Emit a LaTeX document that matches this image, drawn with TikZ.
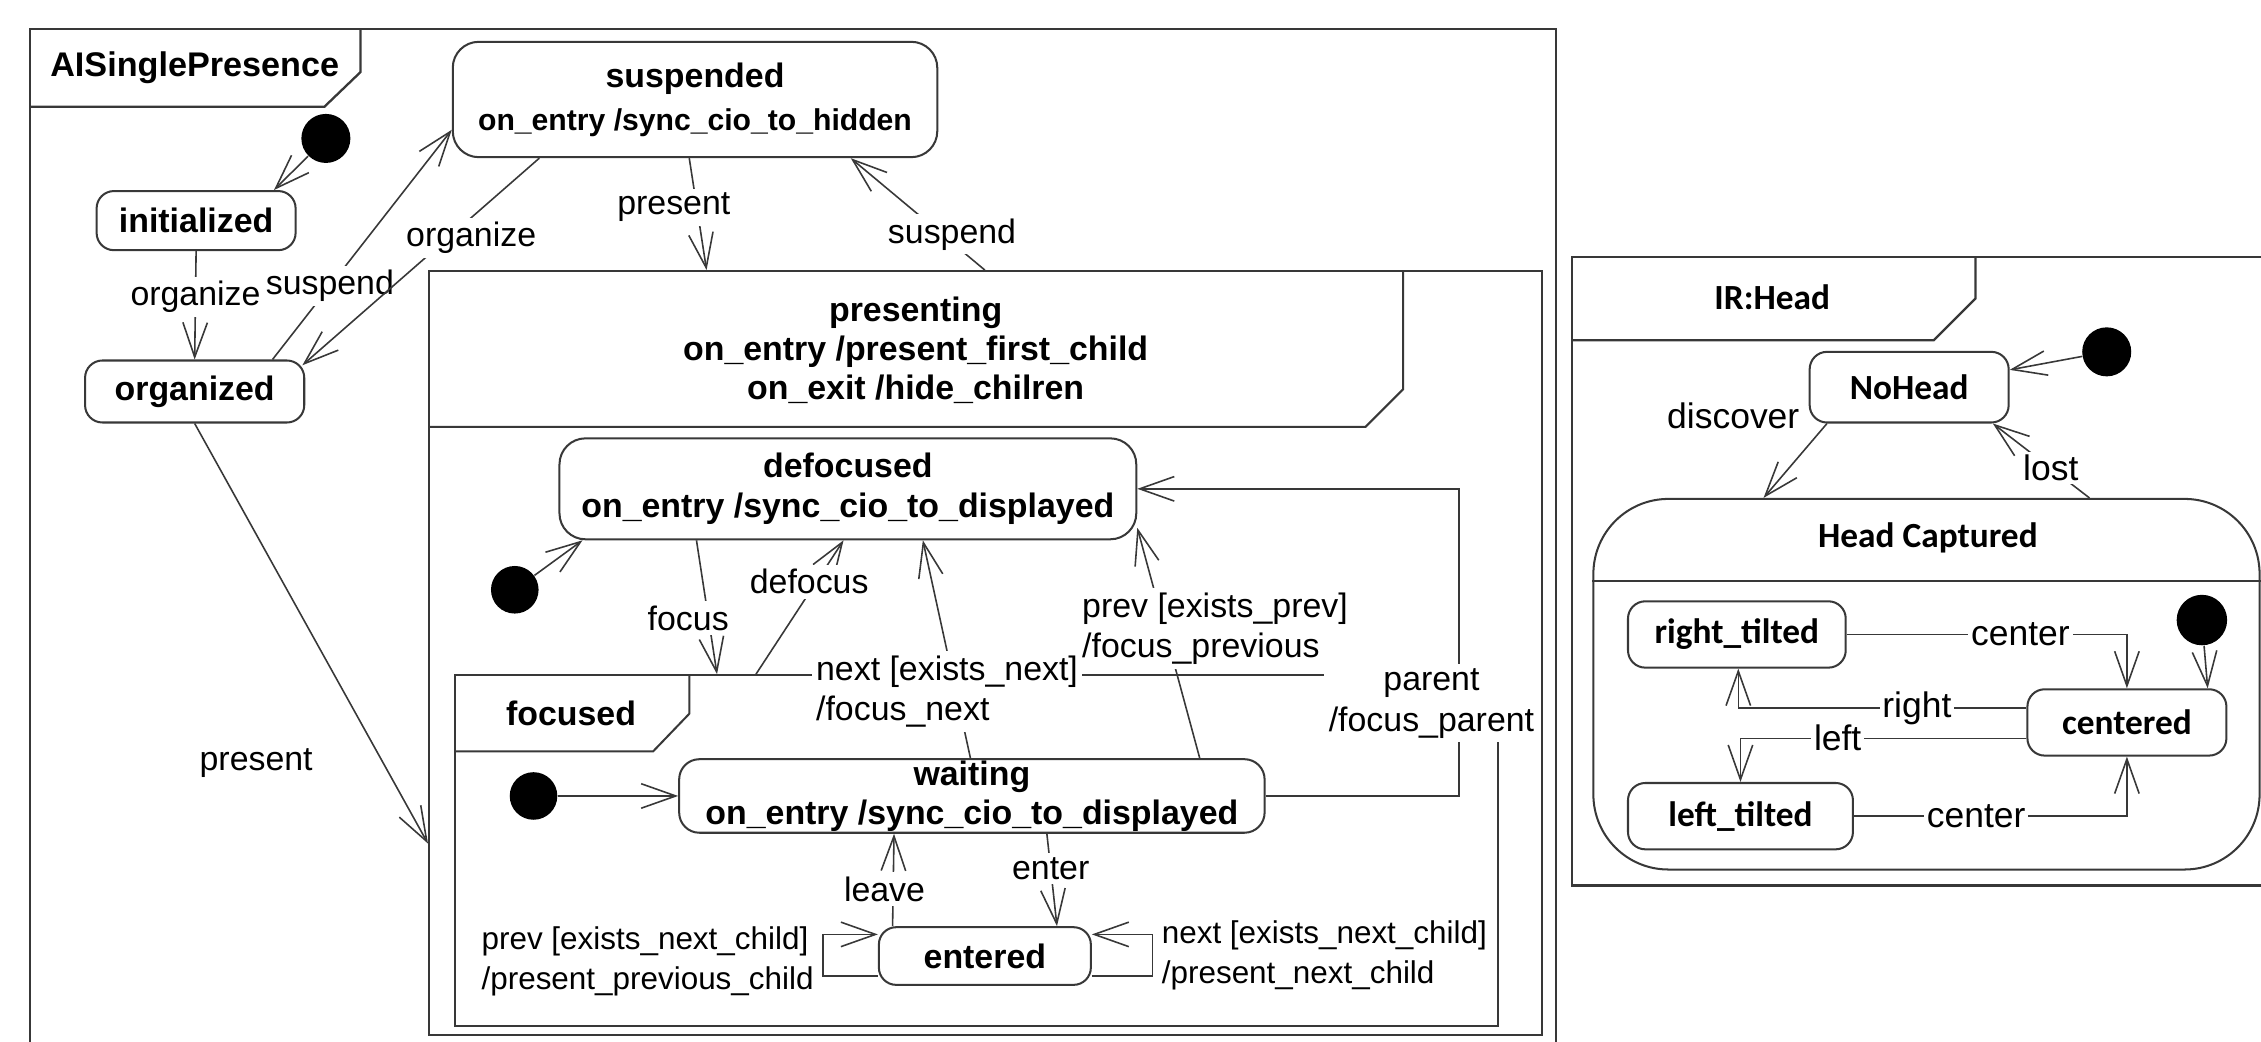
\documentclass[tikz,border=0pt]{standalone}
\usepackage{fontspec}
\setmainfont{Liberation Sans}
\newfontfamily\calfont{Carlito}
\usetikzlibrary{arrows.meta}
\definecolor{ln}{HTML}{383838}
\begin{document}
\begin{tikzpicture}[x=0.5pt,y=-0.5pt,
  st/.style={draw=ln, line width=0.7pt, rounded corners=6pt, align=center, inner sep=0pt, font=\bfseries\fontsize{11.75}{14}\selectfont},
  rst/.style={st, font=\calfont\bfseries\fontsize{12.25}{14}\selectfont},
  lbl/.style={fill=white, inner sep=1.5pt, align=left, font=\fontsize{11.75}{14}\selectfont},
  slbl/.style={lbl, font=\fontsize{10.9}{13.8}\selectfont},
  rlbl/.style={fill=white, inner sep=1pt, font=\fontsize{12.3}{14}\selectfont},
  conn/.style={draw=ln, line width=0.55pt, -{Straight Barb[length=12pt,width=8.5pt]}},
  dot/.style={circle, fill=black, inner sep=0pt, minimum size=17pt},
  frm/.style={draw=ln, line width=0.8pt},
  region/.style={draw=ln, line width=0.7pt, inner sep=0pt}
]
\useasboundingbox (0,0) rectangle (1568,722);

% ---------- outer frame AISinglePresence ----------
\draw[frm] (21,726) -- (21,20) -- (1079,20) -- (1079,726);
\draw[frm] (250,20) -- (250,50) -- (225,74) -- (21,74);
\node[font=\bfseries\fontsize{11.85}{14}\selectfont] (tabA) at (135,47) {AISinglePresence};

% ---------- presenting region ----------
\node[region, minimum width=386pt, minimum height=265pt] (pres) at (683.5,453) {};
\draw[line width=0.7pt, ln] (973,188) -- (973,270) -- (947,296) -- (297,296);
\node[font=\bfseries\fontsize{11.75}{13.5}\selectfont, align=center] (presT) at (635,243)
  {presenting\\on\_entry /present\_first\_child\\on\_exit /hide\_chilren};

% ---------- focused region ----------
\node[region, minimum width=361.5pt, minimum height=121.75pt] (foc) at (677.25,590) {};
\draw[line width=0.7pt, ln] (478,468) -- (478,495) -- (453,521) -- (316,521);
\node[font=\bfseries\fontsize{11.75}{14}\selectfont] (focT) at (396,495) {focused};

% ---------- states (left) ----------
\node[dot] (d1) at (226,96) {};
\node[st, minimum width=69pt, minimum height=20.5pt] (ini) at (136,153) {initialized};
\node[st, minimum width=76pt, minimum height=21.5pt] (org) at (135,271.5) {organized};
\node[st, rounded corners=9pt, minimum width=168pt, minimum height=40pt] (sus) at (482,69)
  {suspended\\[1pt]{\fontsize{10.45}{13}\selectfont on\_entry /sync\_cio\_to\_hidden}};
\node[st, rounded corners=9pt, minimum width=200pt, minimum height=35pt] (def) at (588,339)
  {defocused\\on\_entry /sync\_cio\_to\_displayed};
\node[dot, minimum size=16.5pt] (d2) at (357,409) {};
\node[dot, minimum size=16.5pt] (d3) at (370,552) {};
\node[st, rounded corners=7pt, minimum width=203pt, minimum height=25.5pt] (wai) at (674,552)
  {waiting\\[-0.5pt]on\_entry /sync\_cio\_to\_displayed};
\node[st, minimum width=73.5pt, minimum height=20pt] (ent) at (683,663) {entered};

% ---------- transitions (left) ----------
\draw[conn] (d1) -- ([xshift=27pt]ini.north);
\draw[conn] (ini.south) -- node[lbl, pos=0.42] {organize} (org.north);
\draw[conn] ([xshift=27pt]org.north) -- node[lbl, pos=0.32] {suspend} ([yshift=-10.5pt]sus.west);
\draw[conn] ([xshift=-54pt]sus.south) -- node[lbl, pos=0.385, xshift=8pt] {organize} ([xshift=-1pt,yshift=-2pt]org.north east);
\draw[conn] ([xshift=-2pt]sus.south) -- node[lbl, pos=0.44, xshift=-8pt] {present} ([xshift=-96.75pt]pres.north);
\draw[conn] ([xshift=-0.25pt]pres.north) -- node[lbl, pos=0.32, xshift=3.5pt] {suspend} ([xshift=54pt]sus.south);
\draw[conn] (org.south) -- node[lbl, pos=0.795, xshift=-43pt, yshift=-2pt] {present} ([yshift=-66pt]pres.west);

\draw[conn] (d2) -- ([xshift=-92pt]def.south);
\draw[conn] ([xshift=-52.5pt]def.south) -- node[lbl, pos=0.58, xshift=-7pt] {focus} ([xshift=-90pt]foc.north);
\draw[conn] ([xshift=-76.5pt]foc.north) -- node[lbl, pos=0.69, xshift=-2.5pt] {defocus} ([xshift=-1.5pt]def.south);
\draw[conn] (d3) -- (wai.west);
\draw[conn] ([xshift=-0.5pt]wai.north) -- node[lbl, pos=0.32, anchor=west, xshift=-50pt, yshift=-1pt] {next [exists\_next]\\/focus\_next} ([xshift=26pt]def.south);
\draw[conn] ([xshift=79pt]wai.north) -- node[lbl, pos=0.578, anchor=west, xshift=-30pt, yshift=-1.25pt] {prev [exists\_prev]\\/focus\_previous} ([yshift=-13.5pt]def.east);
\draw[conn] (wai.east) -- ++(67pt,0) coordinate (pc) |- node[lbl, align=center, pos=0.16, xshift=-9.5pt, yshift=-2pt] {parent\\/focus\_parent} (def.east);
\draw[conn] ([xshift=-32pt]ent.north) -- node[lbl, pos=0.4, xshift=-3pt] {leave} ([xshift=-27pt]wai.south);
\draw[conn] ([xshift=26pt]wai.south) -- node[lbl, pos=0.38] {enter} ([xshift=25pt]ent.north);
\draw[conn] ([yshift=-7pt]ent.west) -- ++(-19pt,0) coordinate (lc) |- node[slbl, pos=0.25, anchor=east, xshift=-1.5pt, yshift=-2pt] {prev [exists\_next\_child]\\/present\_previous\_child} ([yshift=7.5pt]ent.west);
\draw[conn] ([yshift=-7pt]ent.east) -- ++(21pt,0) coordinate (rc) |- node[slbl, pos=0.25, anchor=west, xshift=1.5pt] {next [exists\_next\_child]\\/present\_next\_child} ([yshift=7.5pt]ent.east);

% ---------- IR:Head frame ----------
\draw[frm] (1600,178) -- (1090,178) -- (1090,614) -- (1600,614);
\draw[frm] (1370,178) -- (1370,207) -- (1341,236) -- (1090,236);
\node[font=\calfont\bfseries\fontsize{12.25}{14}\selectfont] (tabB) at (1229,206) {IR:Head};

\node[dot] (d4) at (1461,244) {};
\node[rst, minimum width=69pt, minimum height=24.5pt] (noh) at (1324,268.5) {NoHead};
\node[draw=ln, line width=0.7pt, rounded corners=26pt, inner sep=0pt, minimum width=231pt, minimum height=128.5pt] (hc) at (1336,474.5) {};
\draw[line width=0.7pt, ln] (hc.west |- 0,403) -- (hc.east |- 0,403);
\node[font=\calfont\bfseries\fontsize{12.25}{14}\selectfont] (hcT) at (1337,373) {Head Captured};

\node[rst, minimum width=75.5pt, minimum height=23pt] (rt) at (1204.5,440) {right\_tilted};
\node[rst, minimum width=78pt, minimum height=23pt] (lt) at (1207,566) {left\_tilted};
\node[rst, minimum width=69pt, minimum height=23pt] (cen) at (1475,501) {centered};
\node[dot, minimum size=17.5pt] (d5) at (1527,430) {};

\draw[conn] (d4) -- ([yshift=6pt]noh.east);
\draw[conn] ([xshift=-28.5pt]noh.south) -- node[rlbl, pos=0, xshift=-32.5pt, yshift=2.5pt] {discover} ([xshift=-56.5pt]hc.north);
\draw[conn] ([xshift=56.5pt]hc.north) -- node[rlbl, pos=0.4] {lost} ([xshift=29pt]noh.south);
\draw[conn] (rt.east) -| node[rlbl, pos=0.31] {center} (cen.north);
\draw[conn] (d5) -- ([xshift=28pt]cen.north);
\draw[conn] ([yshift=5pt]cen.west) -| node[rlbl, pos=0.19] {right} ([xshift=0.5pt]rt.south);
\draw[conn] ([yshift=-5.5pt]cen.west) -| node[rlbl, pos=0.33] {left} (lt.north);
\draw[conn] (lt.east) -| node[rlbl, pos=0.224] {center} (cen.south);
\end{tikzpicture}
\end{document}
